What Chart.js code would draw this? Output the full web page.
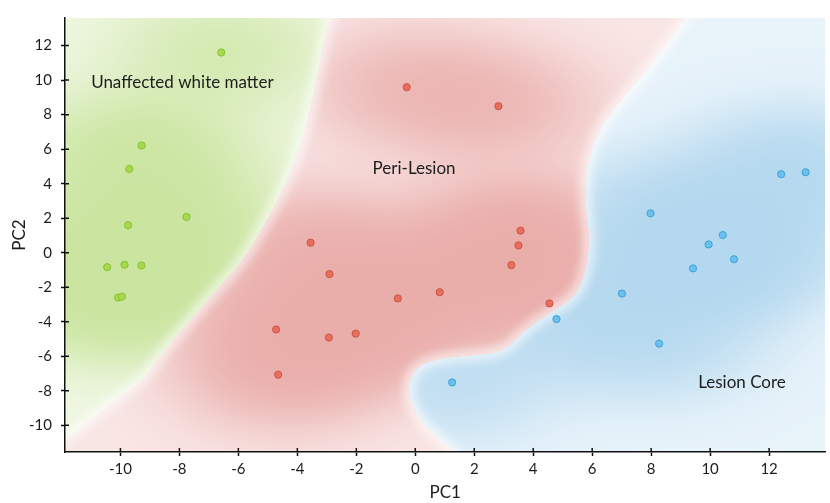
<!DOCTYPE html>
<html>
<head>
<meta charset="utf-8">
<script src="https://cdn.jsdelivr.net/npm/chart.js@4.4.1/dist/chart.umd.min.js"></script>
<style>
  html, body { margin: 0; padding: 0; background: #fff; }
  #wrap { width: 830px; height: 503px; }
</style>
</head>
<body>
<div id="wrap"><canvas id="pca" width="830" height="503"></canvas></div>
<script>
(function () {
    'use strict';

    // ---- data ----
    var greenX = [-6.58, -9.28, -9.70, -7.76, -9.74, -10.45, -9.86, -9.29, -10.08, -9.95];
    var greenY = [11.60, 6.21, 4.85, 2.07, 1.59, -0.84, -0.70, -0.74, -2.60, -2.55];

    var redX = [-0.29, 2.82, -3.55, -2.91, -0.59, 0.83, 3.57, 3.50, 3.26, 4.55, -4.72, -2.93, -2.02, -4.65];
    var redY = [9.59, 8.49, 0.58, -1.24, -2.65, -2.29, 1.28, 0.42, -0.72, -2.94, -4.45, -4.92, -4.69, -7.07];

    var blueX = [12.41, 13.24, 7.98, 10.43, 9.95, 10.81, 9.42, 7.01, 8.27, 4.79, 1.25];
    var blueY = [4.55, 4.66, 2.28, 1.02, 0.48, -0.38, -0.91, -2.37, -5.27, -3.85, -7.52];

    // class borders of the shaded background, in PC units
    var greenEdgeX = [-2.80, -2.94, -3.52, -3.86, -4.39, -5.07, -5.88, -6.82, -7.83, -8.67, -9.25, -10.36, -11.81, -12.4];
    var greenEdgeY = [14.2, 13.6, 8.62, 6.33, 4.03, 1.74, -0.55, -2.27, -4.28, -6.0, -7.43, -8.74, -10.75, -11.2];
    var blueEdgeX = [9.45, 9.19, 8.18, 7.17, 6.33, 5.82, 5.76, 5.92, 5.82, 5.49, 4.81, 4.14, 3.57, 3.13, 2.56, 0.77, -0.01, -0.25, -0.18, 0.16, 0.77, 1.44, 1.8];
    var blueEdgeY = [14.2, 13.6, 11.2, 9.19, 7.47, 5.18, 2.89, 1.0, -0.95, -2.44, -3.24, -3.99, -4.73, -5.54, -5.88, -6.11, -6.68, -7.83, -8.57, -9.72, -10.75, -11.72, -12.3];

    var xTicks = [-10, -8, -6, -4, -2, 0, 2, 4, 6, 8, 10, 12];
    var yTicks = [-10, -8, -6, -4, -2, 0, 2, 4, 6, 8, 10, 12];

    var regionNames = ['Unaffected white matter', 'Peri-Lesion', 'Lesion Core'];
    var regionX = [-7.9, -0.04, 11.08];
    var regionY = [9.88, 4.9, -7.54];

    var FONT = 'Lato, "Open Sans", sans-serif';
    var INK = '#1d1d1d';

    function pts(xs, ys) {
        return xs.map(function (x, i) { return { x: x, y: ys[i] }; });
    }

    // full-strength tint per class: green, red, blue
    var shade = [[175, 215, 110], [222, 130, 125], [140, 195, 230]];
    var groups = [[greenX, greenY], [redX, redY], [blueX, blueY]];

    // smooth path through a polyline given in data units
    function tracePath(c, xs, ys, ex, ey, ox, oy) {
        var P = ex.map(function (v, i) { return [xs.getPixelForValue(v) - ox, ys.getPixelForValue(ey[i]) - oy]; });
        c.moveTo(P[0][0], P[0][1]);
        for (var i = 1; i < P.length - 1; i++) {
            var mx = (P[i][0] + P[i + 1][0]) / 2, my = (P[i][1] + P[i + 1][1]) / 2;
            c.quadraticCurveTo(P[i][0], P[i][1], mx, my);
        }
        c.lineTo(P[P.length - 1][0], P[P.length - 1][1]);
        return P;
    }

    var fieldCache = null;
    var fieldPlugin = {
        id: 'field',
        beforeDraw: function (chart) {
            var a = chart.chartArea, xs = chart.scales.x, ys = chart.scales.y, ctx = chart.ctx;
            var w = Math.round(a.right - a.left), h = Math.round(a.bottom - a.top);
            var L = Math.round(a.left), T = Math.round(a.top);
            if (!fieldCache) {
                // class mask from the border polygons
                var mk = document.createElement('canvas');
                mk.width = w; mk.height = h;
                var m = mk.getContext('2d');
                m.fillStyle = '#ff0000';
                m.fillRect(0, 0, w, h);
                m.fillStyle = '#00ff00';
                m.beginPath();
                tracePath(m, xs, ys, greenEdgeX, greenEdgeY, L, T);
                m.lineTo(-20, h + 20); m.lineTo(-20, -20);
                m.closePath(); m.fill();
                m.fillStyle = '#0000ff';
                m.beginPath();
                tracePath(m, xs, ys, blueEdgeX, blueEdgeY, L, T);
                m.lineTo(w + 20, h + 20); m.lineTo(w + 20, -20);
                m.closePath(); m.fill();
                var md = m.getImageData(0, 0, w, h).data;

                var img = ctx.createImageData(w, h);
                var colV = [], rowV = [];
                for (var i = 0; i < w; i++) colV.push(xs.getValueForPixel(L + i + 0.5));
                for (var j = 0; j < h; j++) rowV.push(ys.getValueForPixel(T + j + 0.5));
                var h2 = 2 * 2.2 * 2.2;
                for (j = 0; j < h; j++) {
                    var vy = rowV[j];
                    for (i = 0; i < w; i++) {
                        var o = (j * w + i) * 4;
                        var k = 1;
                        if (md[o + 1] > md[o] && md[o + 1] >= md[o + 2]) k = 0;
                        else if (md[o + 2] > md[o] && md[o + 2] > md[o + 1]) k = 2;
                        var gx = groups[k][0], gy = groups[k][1], dk = 0, vx = colV[i];
                        for (var p = 0; p < gx.length; p++) {
                            var ex = vx - gx[p], ey = vy - gy[p];
                            dk += Math.exp(-(ex * ex + ey * ey) / h2);
                        }
                        var t = 0.2 + 0.46 * (1 - Math.exp(-1.2 * dk));
                        var c = shade[k];
                        img.data[o] = 255 - (255 - c[0]) * t;
                        img.data[o + 1] = 255 - (255 - c[1]) * t;
                        img.data[o + 2] = 255 - (255 - c[2]) * t;
                        img.data[o + 3] = 255;
                    }
                }
                // pale seam along both borders
                var fc = document.createElement('canvas');
                fc.width = w; fc.height = h;
                var f = fc.getContext('2d');
                f.putImageData(img, 0, 0);
                f.save();
                f.filter = 'blur(5px)';
                f.globalAlpha = 0.6;
                f.strokeStyle = '#ffffff';
                f.lineWidth = 12;
                f.lineJoin = 'round';
                f.beginPath(); tracePath(f, xs, ys, greenEdgeX, greenEdgeY, L, T); f.stroke();
                f.beginPath(); tracePath(f, xs, ys, blueEdgeX, blueEdgeY, L, T); f.stroke();
                f.restore();
                fieldCache = fc;
            }
            ctx.drawImage(fieldCache, L, T);
        }
    };

    // inner half of the crossing tick marks + region captions
    var decorPlugin = {
        id: 'decor',
        afterDatasetsDraw: function (chart) {
            var ctx = chart.ctx, xs = chart.scales.x, ys = chart.scales.y;
            ctx.save();
            ctx.font = '17px ' + FONT;
            ctx.fillStyle = INK;
            ctx.textAlign = 'center';
            ctx.textBaseline = 'middle';
            regionNames.forEach(function (name, i) {
                ctx.fillText(name, xs.getPixelForValue(regionX[i]), ys.getPixelForValue(regionY[i]));
            });
            ctx.restore();
        },
        afterDraw: function (chart) {
            var a = chart.chartArea, ctx = chart.ctx, xs = chart.scales.x, ys = chart.scales.y;
            ctx.save();
            ctx.strokeStyle = '#111';
            ctx.lineWidth = 1.5;
            ctx.beginPath();
            xTicks.forEach(function (v) {
                var px = xs.getPixelForValue(v);
                ctx.moveTo(px, a.bottom); ctx.lineTo(px, a.bottom - 4);
            });
            yTicks.forEach(function (v) {
                var py = ys.getPixelForValue(v);
                ctx.moveTo(a.left, py); ctx.lineTo(a.left + 4, py);
            });
            ctx.stroke();
            ctx.restore();
        }
    };

    function dotSet(label, xs, ys, fill, edge) {
        return {
            label: label,
            data: pts(xs, ys),
            backgroundColor: fill,
            borderColor: edge,
            borderWidth: 1,
            pointRadius: 3.6,
            pointHoverRadius: 3.6
        };
    }

    new Chart(document.getElementById('pca'), {
        type: 'scatter',
        data: {
            datasets: [
                dotSet('Unaffected white matter', greenX, greenY, '#a8d94c', '#87c234'),
                dotSet('Peri-Lesion', redX, redY, '#e96f5c', '#c8564a'),
                dotSet('Lesion Core', blueX, blueY, '#6cc0ec', '#3fa2db')
            ]
        },
        options: {
            responsive: false,
            animation: false,
            layout: { padding: { top: 13, right: 0, bottom: 0, left: 0 } },
            plugins: { legend: { display: false }, tooltip: { enabled: false } },
            scales: {
                x: {
                    type: 'linear', min: -11.88, max: 13.91,
                    afterFit: function (s) { s.height = 51; },
                    afterBuildTicks: function (s) { s.ticks = xTicks.map(function (v) { return { value: v }; }); },
                    border: { display: true, color: '#111', width: 1.5 },
                    grid: { drawOnChartArea: false, drawTicks: true, tickLength: 4, tickColor: '#111', tickWidth: 1.5 },
                    ticks: { color: INK, font: { family: FONT, size: 15 }, padding: 4, maxRotation: 0, autoSkip: false },
                    title: { display: true, text: 'PC1', color: INK, font: { family: FONT, size: 17 }, padding: { top: 0, bottom: 0 } }
                },
                y: {
                    type: 'linear', min: -11.55, max: 13.6,
                    afterFit: function (s) { s.width = 65; },
                    afterBuildTicks: function (s) { s.ticks = yTicks.map(function (v) { return { value: v }; }); },
                    border: { display: true, color: '#111', width: 1.5 },
                    grid: { drawOnChartArea: false, drawTicks: true, tickLength: 4, tickColor: '#111', tickWidth: 1.5 },
                    ticks: { color: INK, font: { family: FONT, size: 15 }, padding: 9, autoSkip: false },
                    title: { display: true, text: 'PC2', color: INK, font: { family: FONT, size: 17 }, padding: { top: 9, bottom: 0 } }
                }
            }
        },
        plugins: [fieldPlugin, decorPlugin]
    });
})();
</script>
</body>
</html>
